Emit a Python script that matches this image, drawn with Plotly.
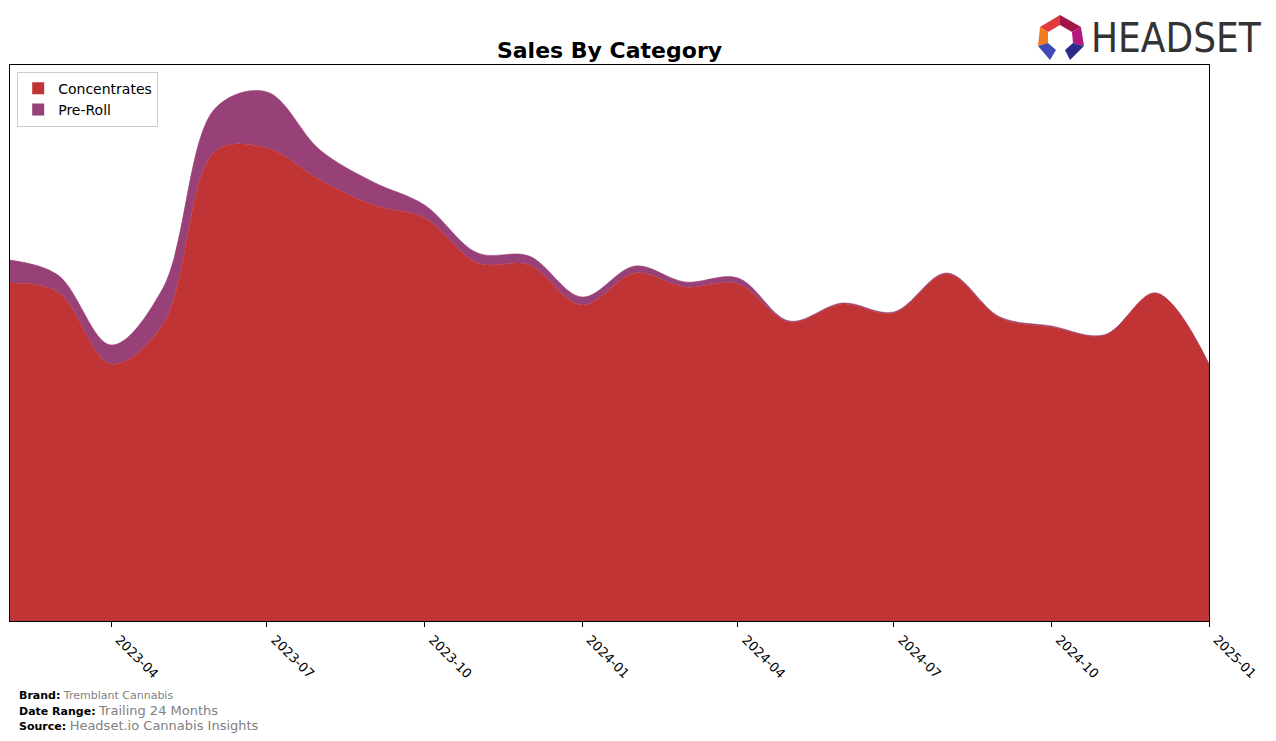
import plotly.graph_objects as go

# monthly sales (arbitrary units)
months = ['2023-02-01', '2023-03-01', '2023-04-01', '2023-05-01', '2023-06-01', '2023-07-01',
          '2023-08-01', '2023-09-01', '2023-10-01', '2023-11-01', '2023-12-01', '2024-01-01',
          '2024-02-01', '2024-03-01', '2024-04-01', '2024-05-01', '2024-06-01', '2024-07-01',
          '2024-08-01', '2024-09-01', '2024-10-01', '2024-11-01', '2024-12-01', '2025-01-01']
concentrates = [33800, 32900, 25700, 29600, 47000, 47300, 44100, 41600, 40300, 35800, 35600, 31600,
                34800, 33400, 33700, 29900, 31700, 30800, 34700, 30300, 29400, 28600, 32800, 25700]
pre_roll = [2300, 1700, 1900, 3600, 4300, 5600, 3000, 2300, 1300, 1000, 900, 800,
            700, 500, 600, 100, 100, 100, 100, 100, 100, 0, 0, 0]
tick_vals = ['2023-04-01', '2023-07-01', '2023-10-01', '2024-01-01',
             '2024-04-01', '2024-07-01', '2024-10-01', '2025-01-01']
tick_text = ['2023-04', '2023-07', '2023-10', '2024-01', '2024-04', '2024-07', '2024-10', '2025-01']

COLORS = {'Concentrates': '#C13435', 'Pre-Roll': '#984179'}
FONT = 'DejaVu Sans, Verdana, sans-serif'

# page has an 8px body margin, so the figure sits at (8, 8)
OFF = 8

fig = go.Figure()
for name, vals in [('Concentrates', concentrates), ('Pre-Roll', pre_roll)]:
    fig.add_trace(go.Scatter(
        x=months, y=vals, name=name, showlegend=False,
        stackgroup='one', mode='lines',
        line=dict(color=COLORS[name], width=0.6, shape='spline', smoothing=1.0),
        fillcolor=COLORS[name],
    ))
    # legend-only bar so the key is a rectangle like the original
    fig.add_trace(go.Bar(x=[None], y=[None], name=name, marker_color=COLORS[name],
                         marker_line_width=0, showlegend=True))

fig.update_layout(
    width=1276, height=741,
    margin=dict(l=10 - OFF, r=1276 - 1209 + OFF, t=65 - OFF, b=741 - 621 + OFF),
    paper_bgcolor='white', plot_bgcolor='white',
    font=dict(family=FONT, color='black', size=12),
    title=dict(text='<b>Sales By Category</b>', x=((10 + 1209) / 2 - OFF) / 1276, xanchor='center',
               y=1 - (50 - OFF) / 741, yanchor='middle', font=dict(size=22, family=FONT)),
    showlegend=True,
    legend=dict(x=0.006, y=0.988, xanchor='left', yanchor='top', traceorder='normal',
                bgcolor='rgba(255,255,255,0.8)', bordercolor='#CCCCCC', borderwidth=1,
                font=dict(size=14, family=FONT), tracegroupgap=0),
)
fig.update_xaxes(
    range=[months[0], months[-1]], tickvals=tick_vals, ticktext=tick_text,
    tickangle=45, ticks='outside', ticklen=5, tickcolor='black', ticklabelshift=8,
    tickfont=dict(size=13, family=FONT),
    showline=True, linecolor='black', linewidth=1, mirror=True,
    showgrid=False, zeroline=False,
)
fig.update_yaxes(
    range=[0, 55600], showticklabels=False, ticks='',
    showline=True, linecolor='black', linewidth=1, mirror=True,
    showgrid=False, zeroline=False,
)


# HEADSET logo (page pixel coords -> paper coords)
def px(x, y):
    return (x - 10) / 1199, (621 - y) / 556


def poly(points, color):
    pts = [px(a, b) for a, b in points]
    path = 'M ' + ' L '.join(f'{a:.5f},{b:.5f}' for a, b in pts) + ' Z'
    fig.add_shape(type='path', path=path, xref='paper', yref='paper',
                  fillcolor=color, line=dict(width=0))


poly([(1040, 27), (1060, 15), (1060, 25), (1048, 32)], '#E0393E')
poly([(1060, 15), (1081, 27), (1072, 32), (1060, 25)], '#A3164A')
poly([(1040, 27), (1048, 32), (1048, 43), (1038, 46)], '#F47B20')
poly([(1081, 27), (1084, 46), (1073, 43), (1072, 32)], '#B5177E')
poly([(1038, 46), (1048, 43), (1056, 50), (1050, 60)], '#4049B8')
poly([(1084, 46), (1073, 43), (1065, 50), (1070, 60)], '#2D2A8C')

fig.add_annotation(text='HEADSET', xref='paper', yref='paper', x=px(1089, 0)[0], y=px(0, 38)[1],
                   xanchor='left', yanchor='middle', showarrow=False,
                   font=dict(size=40, color='#333333',
                             family='Liberation Sans Narrow, DejaVu Sans Condensed, Arial Narrow, sans-serif'))

# footer
footer = [
    ('Brand:', 'Tremblant Cannabis', 695, 11),
    ('Date Range:', 'Trailing 24 Months', 710, 13),
    ('Source:', 'Headset.io Cannabis Insights', 725, 13),
]
for label, value, ypix, vsize in footer:
    fig.add_annotation(
        text=f"<b>{label}</b> <span style='color:#808080;font-size:{vsize}px'>{value}</span>",
        xref='paper', yref='paper', x=px(17, 0)[0], y=px(0, ypix)[1],
        xanchor='left', yanchor='middle', showarrow=False,
        font=dict(size=11, color='black', family=FONT))

fig.write_html("out.html")
